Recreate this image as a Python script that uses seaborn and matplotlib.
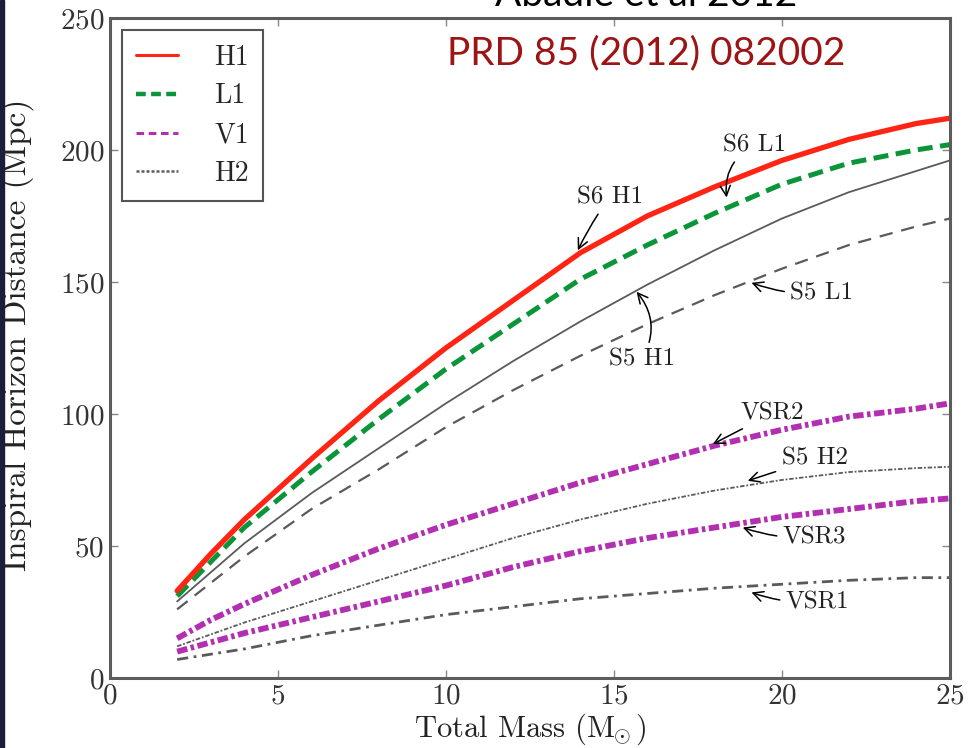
import matplotlib
matplotlib.use("Agg")
import matplotlib.pyplot as plt
import seaborn as sns
from matplotlib.lines import Line2D
from matplotlib.patches import Rectangle

# ---------------------------------------------------- #
# datos (Abadie et al 2012)
mass = [2, 3, 4, 6, 8, 10, 12, 14, 16, 18, 20, 22, 24, 25]
s6_h1 = [33, 47, 60, 83, 105, 125, 143, 161, 175, 186, 196, 204, 210, 212]
s6_l1 = [31, 44, 57, 78, 98, 117, 134, 151, 164, 176, 187, 195, 200, 202]
s5_h1 = [29, 40, 51, 70, 87, 104, 120, 135, 149, 162, 174, 184, 192, 196]
s5_l1 = [26, 36, 46, 64, 79, 95, 109, 122, 134, 145, 155, 164, 171, 174]
vsr2 = [15, 22, 28, 39, 49, 58, 66, 74, 81, 88, 94, 99, 102, 104]
s5_h2 = [12, 16.5, 21, 29, 37, 45, 53, 60, 66, 71, 75, 78, 79.5, 80]
vsr3 = [10, 13.5, 17, 23, 29, 35, 42, 48, 53, 57, 61, 64, 67, 68]
vsr1 = [7, 9, 11, 16, 20, 24, 27, 30, 32, 34, 35.5, 37, 38, 38]

legend_labels = ['H1', 'L1', 'V1', 'H2']

sns.set_style('ticks')
plt.rcParams['font.family'] = ['cmr10', 'DejaVu Serif']
plt.rcParams['mathtext.fontset'] = 'cm'
plt.rcParams['axes.formatter.use_mathtext'] = True

red = '#ff2414'
green = '#0a9638'
magenta = '#b22fb2'
gray = '#5a5a5a'

fig = plt.figure(figsize=(9.69, 7.48), dpi=100)
ax = fig.add_axes([0.1135, 0.0936, 0.8665, 0.8824])

# curvas
sns.lineplot(x=mass, y=s5_l1, ax=ax, color=gray, lw=1.6, linestyle=(0, (6, 4)))
sns.lineplot(x=mass, y=s5_h1, ax=ax, color=gray, lw=1.3)
sns.lineplot(x=mass, y=s5_h2, ax=ax, color=gray, lw=1.3, linestyle=(0, (2.5, 1, 1, 1)))
sns.lineplot(x=mass, y=vsr1, ax=ax, color=gray, lw=2, linestyle=(0, (4, 2, 1, 2)))
sns.lineplot(x=mass, y=vsr2, ax=ax, color=magenta, lw=4.2, linestyle=(0, (1.8, 0.6, 0.6, 0.6)))
sns.lineplot(x=mass, y=vsr3, ax=ax, color=magenta, lw=4.2, linestyle=(0, (1.8, 0.6, 0.6, 0.6)))
sns.lineplot(x=mass, y=s6_l1, ax=ax, color=green, lw=3.6, linestyle=(0, (3, 1.5)))
sns.lineplot(x=mass, y=s6_h1, ax=ax, color=red, lw=3.8)

ax.set_xlim(0, 25)
ax.set_ylim(0, 250)
ax.set_xticks([0, 5, 10, 15, 20, 25])
ax.set_yticks([0, 50, 100, 150, 200, 250])
ax.tick_params(direction='in', top=True, right=True, length=6, width=1,
               color='#888888', labelsize=21, pad=4, labelcolor='#333333')
for s in ax.spines.values():
    s.set_color('#5c5c5c')
    s.set_linewidth(2.2)

ax.set_xlabel(r'Total Mass ($\mathrm{M}_{\!\!\odot}$)', fontsize=22, labelpad=1, color='#222222')
ax.set_ylabel('Inspiral Horizon Distance (Mpc)', fontsize=24, color='#222222')
ax.yaxis.set_label_coords(-0.09, 0.52)

# anotaciones
arrow = dict(arrowstyle='->', color='black', lw=1.1, shrinkB=0)
notes = [
    ('S6 H1', (13.93, 162), (14.88, 182), 'arc3,rad=0.05'),
    ('S6 L1', (18.36, 182), (19.2, 201.7), 'arc3,rad=0.35'),
    ('S5 L1', (19.1, 149.7), (21.2, 145.5), 'arc3,rad=-0.1'),
    ('S5 H1', (15.68, 146.3), (15.83, 120.7), 'arc3,rad=0.35'),
    ('VSR2', (17.95, 88.6), (19.73, 100.3), 'arc3,rad=0'),
    ('S5 H2', (18.99, 74.7), (20.98, 83), 'arc3,rad=0'),
    ('VSR3', (18.84, 57), (20.98, 53.2), 'arc3,rad=-0.1'),
    ('VSR1', (19.1, 32.4), (21.07, 28.7), 'arc3,rad=-0.1'),
]
for txt, xy, xytext, cs in notes:
    ax.annotate(txt, xy=xy, xytext=xytext, ha='center', va='center', fontsize=18,
                color='#222222', arrowprops=dict(arrow, connectionstyle=cs))

# leyenda
handles = [
    Line2D([], [], color=red, lw=2.2),
    Line2D([], [], color=green, lw=3.2, linestyle=(0, (2.2, 1.2))),
    Line2D([], [], color=magenta, lw=2.2, linestyle=(0, (2.5, 1.5))),
    Line2D([], [], color=gray, lw=1.8, linestyle=(0, (1.2, 0.8))),
]
leg = ax.legend(handles, legend_labels, loc='upper left', fontsize=20, fancybox=False,
                framealpha=1, edgecolor='#555555', handlelength=1.5, labelspacing=0.45,
                handletextpad=1.3, borderpad=0.5, borderaxespad=0.45)
leg.get_frame().set_linewidth(1.5)

fig.text(646 / 969, 1 - 53 / 748, 'PRD 85 (2012) 082002', ha='center', va='center',
         fontsize=28, color='#9c1414', family='Lato')
fig.text(646 / 969, 1 - 6 / 748, 'Abadie et al 2012', ha='center', va='baseline',
         fontsize=28, color='black', family='Lato')

# borde oscuro de la diapositiva
fig.patches.append(Rectangle((0, 0), 4 / 969, 1, transform=fig.transFigure,
                             color='#1b1d3a', zorder=0))

fig.savefig('out.png', dpi=100)
